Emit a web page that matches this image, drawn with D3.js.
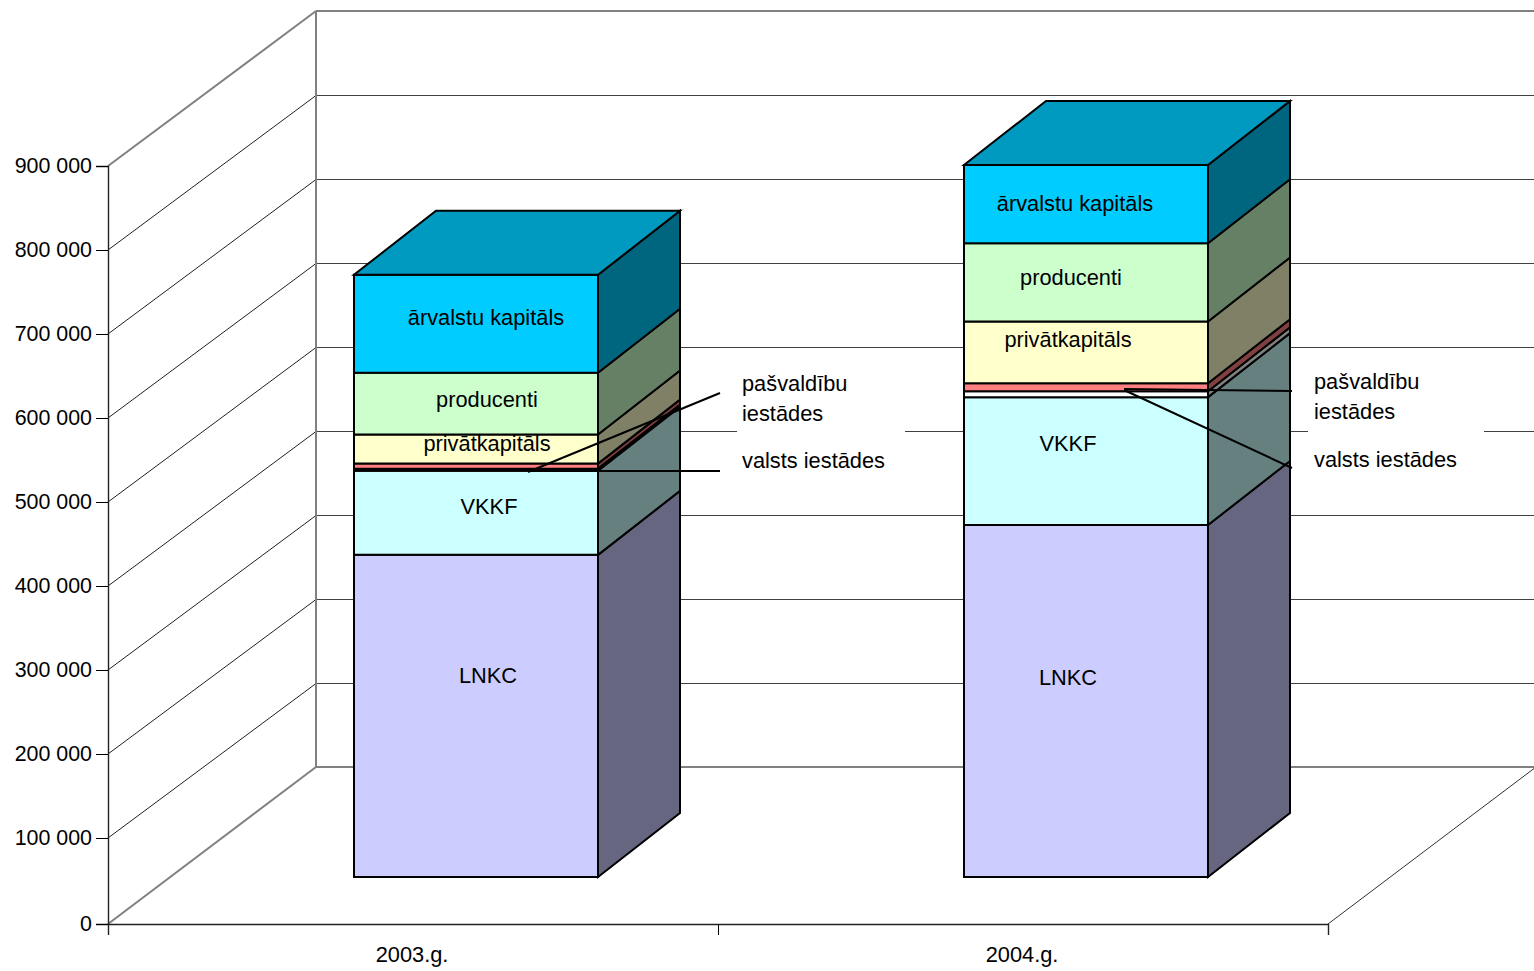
<!DOCTYPE html>
<html>
<head>
<meta charset="utf-8">
<script src="https://cdn.jsdelivr.net/npm/d3@7"></script>
<style>
  html, body { margin: 0; padding: 0; background: #fff; }
  svg { display: block; }
  text { font-family: "Liberation Sans", Arial, sans-serif; font-size: 21.8px; fill: #000; }
  .y-axis text { font-size: 21.4px; }
</style>
</head>
<body>
<svg width="1534" height="971"></svg>
<script>
// values
var years = ["2003.g.", "2004.g."];
var seriesNames = ["LNKC", "VKKF", "valsts iestādes", "pašvaldību iestādes", "privātkapitāls", "producenti", "ārvalstu kapitāls"];
var lnkc = [383000, 418500];
var vkkf = [100000, 152000];
var valsts = [2500, 7000];
var pasvaldibu = [6000, 9500];
var privat = [34500, 73500];
var producenti = [73500, 93000];
var arvalstu = [116500, 93000];
var yTicks = [0, 100000, 200000, 300000, 400000, 500000, 600000, 700000, 800000, 900000];

var seriesValues = [lnkc, vkkf, valsts, pasvaldibu, privat, producenti, arvalstu];
var table = years.map(function(y, i) {
  var row = {year: y};
  seriesNames.forEach(function(s, j) { row[s] = seriesValues[j][i]; });
  return row;
});
var stacked = d3.stack().keys(seriesNames)(table);

var colors = d3.scaleOrdinal().domain(seriesNames)
  .range(["#ccccff", "#ccffff", "#ffffff", "#ff8080", "#ffffcc", "#ccffcc", "#00ccff"]);

var svg = d3.select("svg");

// box geometry
var wall = {x: 208, y: 156};
var barFront = {x: 63, y: 46};
var barDepth = {x: 82, y: 64};

var xScale = d3.scaleBand().domain(years).range([108, 1328]).paddingInner(0.6).paddingOuter(0.3);
// the zero tick sits a little lower than the even spacing would put it
var yScale = d3.scaleLinear().domain([0, 100000, 900000]).range([924, 838, 166]);
var backScale = d3.scaleLinear().domain([0, 900000]).range([767, 11]);
var barScale = d3.scaleLinear().domain([0, 900000]).range([877, 120]);

var left = 108, right = 1328, backLeft = left + wall.x, backRight = right + wall.x;
var gray = "#808080";

function seg(x1, y1, x2, y2, color, w) {
  svg.append("line")
    .attr("x1", x1).attr("y1", y1).attr("x2", x2).attr("y2", y2)
    .attr("stroke", color).attr("stroke-width", w);
}

// back wall and side wall
yTicks.forEach(function(t) {
  var edge = t === 0 || t === 900000;
  var by = edge ? backScale(t) : backScale(t) + 0.5;
  seg(backLeft, by, backRight, by, edge ? gray : "#404040", edge ? 2 : 1);
  seg(left, yScale(t), backLeft, by, edge ? gray : "#202020", edge ? 2 : 1);
});
seg(backLeft, backScale(0), backLeft, backScale(900000), gray, 2);
seg(right, yScale(0), backRight, backScale(0), "#303030", 1);

// white boxes of the outside labels hide the grid
var labelBoxes = [{x: 737, w: 168}, {x: 1308, w: 176}];
svg.selectAll(".label-box").data(labelBoxes).enter().append("rect")
  .attr("class", "label-box")
  .attr("x", function(d) { return d.x; })
  .attr("y", 370)
  .attr("width", function(d) { return d.w; })
  .attr("height", 105)
  .attr("fill", "#fff");

// bars
function face(points, fill) {
  svg.append("path")
    .attr("d", d3.line()(points) + "Z")
    .attr("fill", fill)
    .attr("stroke", "#000")
    .attr("stroke-width", 2)
    .attr("stroke-linejoin", "miter");
}

years.forEach(function(year, i) {
  var x0 = xScale(year) + barFront.x;
  var x1 = x0 + xScale.bandwidth();
  stacked.forEach(function(layer) {
    var y0 = barScale(layer[i][0]);
    var y1 = barScale(layer[i][1]);
    var c = d3.rgb(colors(layer.key));
    face([[x1, y0], [x1 + barDepth.x, y0 - barDepth.y], [x1 + barDepth.x, y1 - barDepth.y], [x1, y1]],
      d3.rgb(c.r / 2, c.g / 2, c.b / 2).formatHex());
    face([[x0, y0], [x1, y0], [x1, y1], [x0, y1]], c.formatHex());
  });
  var top = stacked[stacked.length - 1][i][1];
  var c = d3.rgb(colors(seriesNames[seriesNames.length - 1]));
  face([[x0, barScale(top)], [x1, barScale(top)], [x1 + barDepth.x, barScale(top) - barDepth.y], [x0 + barDepth.x, barScale(top) - barDepth.y]],
    d3.rgb(0, c.g * 0.75, c.b * 0.75).formatHex());
});

// labels inside the bars: nudged from the middle of each segment
var nudge = {
  "LNKC": [[12, -41], [-18, -24]],
  "VKKF": [[13, -6], [-18, -18]],
  "privātkapitāls": [[11, -6], [-18, -13]],
  "producenti": [[11, -4], [-15, -5]],
  "ārvalstu kapitāls": [[10, -6], [-11, -1]]
};
stacked.forEach(function(layer) {
  if (!nudge[layer.key]) return;
  years.forEach(function(year, i) {
    var cx = xScale(year) + barFront.x + xScale.bandwidth() / 2;
    var cy = barScale((layer[i][0] + layer[i][1]) / 2);
    svg.append("text")
      .attr("x", cx + nudge[layer.key][i][0])
      .attr("y", cy + nudge[layer.key][i][1])
      .attr("dy", "0.35em")
      .attr("text-anchor", "middle")
      .text(layer.key);
  });
});

// outside labels with their leader lines
var outside = [
  {x: 742, lines: [["pašvaldību", 383], ["iestādes", 413], ["valsts iestādes", 460]]},
  {x: 1314, lines: [["pašvaldību", 381], ["iestādes", 411], ["valsts iestādes", 459]]}
];
outside.forEach(function(o) {
  o.lines.forEach(function(l) {
    svg.append("text").attr("x", o.x).attr("y", l[1]).attr("dy", "0.35em").text(l[0]);
  });
});
seg(720, 393, 528, 472, "#000", 2);
seg(720, 471, 528, 471, "#000", 2);
seg(1292, 391, 1124, 389, "#000", 2);
seg(1292, 468, 1124, 390, "#000", 2);

// axes
var axisLeft = d3.axisLeft(yScale)
  .tickValues(yTicks)
  .tickSize(12)
  .tickPadding(4)
  .tickFormat(function(d) { return d3.format(",")(d).replace(/,/g, " "); });

var gLeft = svg.append("g")
  .attr("class", "y-axis")
  .attr("transform", "translate(" + left + ",0)")
  .call(axisLeft);

var axisBottom = d3.axisBottom(xScale).tickSize(0).tickSizeOuter(11).tickPadding(23);
var gBottom = svg.append("g")
  .attr("transform", "translate(-1," + yScale(0) + ")")
  .call(axisBottom);
gBottom.select(".domain").attr("transform", "translate(1,0)");

// tick between the two years
gBottom.append("line")
  .attr("x1", left + xScale.step() + 1.5).attr("x2", left + xScale.step() + 1.5)
  .attr("y1", 0).attr("y2", 11)
  .attr("stroke", "#000");

svg.selectAll("g .domain").attr("stroke", "#222").attr("stroke-width", 1.4);
svg.selectAll("g text, g").attr("font-family", null).attr("font-size", null);
</script>
</body>
</html>
